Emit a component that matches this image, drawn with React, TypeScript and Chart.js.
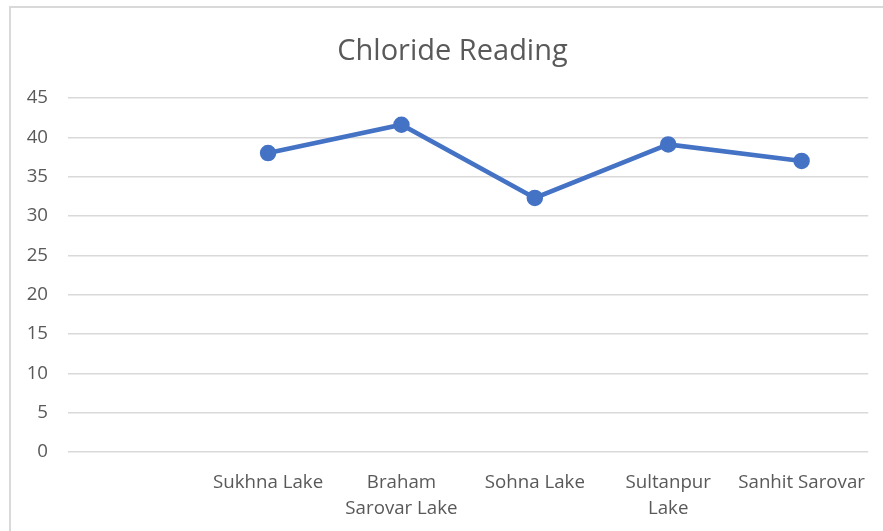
import React, { useEffect, useRef } from "react";
import { Chart, registerables } from "chart.js";

Chart.register(...registerables);

const categories: (string | string[])[] = [
  "",
  "Sukhna Lake",
  ["Braham", "Sarovar Lake"],
  "Sohna Lake",
  ["Sultanpur", "Lake"],
  "Sanhit Sarovar",
];
const chlorideValues: (number | null)[] = [null, 38, 41.6, 32.3, 39.1, 37];
const yTickMax = 45;
const yTickStep = 5;
const titleText = "Chloride Reading";

const FONT = "'Open Sans', 'Noto Sans', sans-serif";

export default function App() {
  const ref = useRef<HTMLCanvasElement | null>(null);
  useEffect(() => {
    if (!ref.current) return;
    const framePlugin = {
      id: "frameAndTitle",
      beforeDraw(chart: any) {
        const ctx = chart.ctx;
        ctx.save();
        ctx.fillStyle = "#ffffff";
        ctx.fillRect(0, 0, chart.width, chart.height);
        ctx.strokeStyle = "#d9d9d9";
        ctx.lineWidth = 2;
        ctx.strokeRect(10, 7, chart.width + 20, chart.height + 20);
        ctx.fillStyle = "#595959";
        ctx.font = `normal 29px ${FONT}`;
        ctx.textAlign = "center";
        ctx.textBaseline = "alphabetic";
        ctx.fillText(titleText, 452.5, 60);
        ctx.restore();
      },
    };
    const chart = new Chart(ref.current, {
      type: "line",
      data: {
        labels: categories,
        datasets: [
          {
            label: titleText,
            data: chlorideValues,
            borderColor: "#4472C4",
            backgroundColor: "#4472C4",
            borderWidth: 4.5,
            pointRadius: 6,
            pointHoverRadius: 6,
            pointBackgroundColor: "#4472C4",
            pointBorderColor: "#4472C4",
            tension: 0,
          },
        ],
      },
      options: {
        animation: false,
        responsive: false,
        maintainAspectRatio: false,
        layout: { padding: { left: 0, right: 13, top: 98, bottom: 0 } },
        plugins: {
          legend: { display: false },
          tooltip: { enabled: false },
          title: { display: false },
        },
        scales: {
          x: {
            type: "category",
            offset: true,
            grid: { display: false, drawTicks: false },
            border: { display: false },
            ticks: {
              color: "#595959",
              font: { family: FONT, size: 18.7, lineHeight: 1.42 },
              padding: 17,
              maxRotation: 0,
              autoSkip: false,
            },
            afterFit(scale: any) {
              scale.height = 79;
            },
          },
          y: {
            min: 0,
            max: yTickMax,
            grid: { color: "#d9d9d9", lineWidth: 1.5, drawTicks: false },
            border: { display: false },
            ticks: {
              stepSize: yTickStep,
              color: "#595959",
              font: { family: FONT, size: 18.7 },
              padding: 20,
            },
            afterFit(scale: any) {
              scale.width = 68;
            },
          },
        },
      },
      plugins: [framePlugin],
    });
    return () => chart.destroy();
  }, []);
  return (
    <div style={{ position: "fixed", left: 0, top: 0, width: 883, height: 531, background: "#fff" }}>
      <canvas ref={ref} width={883} height={531} style={{ display: "block", width: 883, height: 531 }} />
    </div>
  );
}
